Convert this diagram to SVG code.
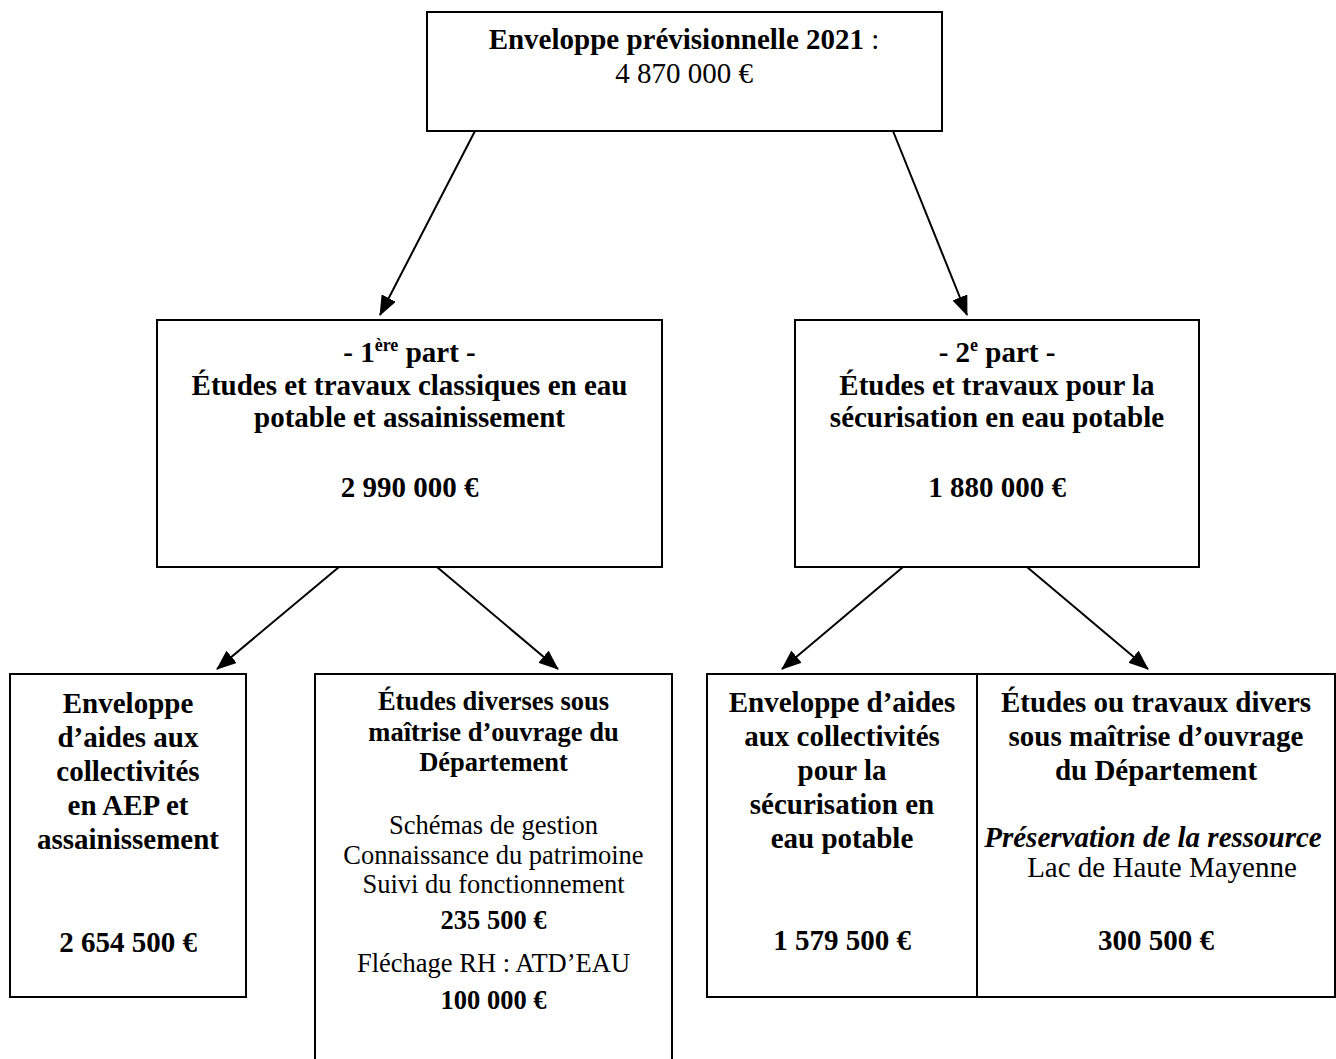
<svg xmlns="http://www.w3.org/2000/svg" width="1336" height="1059" viewBox="0 0 1336 1059">
<style>
.box{fill:#fff;stroke:#000;stroke-width:2}
text{font-family:"Liberation Serif","Times New Roman",serif;fill:#000;text-anchor:middle}
.b{font-weight:bold;font-size:29px}
.r{font-size:29px}
.bs{font-weight:bold;font-size:26.5px}
.rs{font-size:26.5px}
.bi{font-weight:bold;font-style:italic;font-size:29px}
.con{stroke:#000;stroke-width:2;fill:none;marker-end:url(#ah)}
</style>
<defs>
<marker id="ah" markerUnits="userSpaceOnUse" markerWidth="20" markerHeight="16" refX="19" refY="8" orient="auto">
<path d="M0,0 L20,8 L0,16 Z" fill="#000"/>
</marker>
</defs>
<rect width="1336" height="1059" fill="#fff"/>
<g id="connectors">
<line class="con" x1="475" y1="131" x2="380" y2="315"/>
<line class="con" x1="893" y1="131" x2="967" y2="315"/>
<line class="con" x1="339" y1="567" x2="217" y2="669"/>
<line class="con" x1="437" y1="567" x2="558" y2="669"/>
<line class="con" x1="903" y1="567" x2="782" y2="669"/>
<line class="con" x1="1027" y1="567" x2="1148" y2="669"/>
</g>
<g id="top">
<rect class="box" x="427" y="12" width="515" height="119"/>
<text x="684" y="49" class="b">Enveloppe prévisionnelle 2021<tspan font-weight="normal"> :</tspan></text>
<text x="684" y="83" class="r">4 870 000 €</text>
</g>
<g id="part1">
<rect class="box" x="157" y="320" width="505" height="247"/>
<text x="409.5" y="362" class="b">- 1<tspan font-size="18" dy="-11">ère</tspan><tspan dy="11"> part -</tspan></text>
<text x="409.5" y="395" class="b">Études et travaux classiques en eau</text>
<text x="409.5" y="427" class="b">potable et assainissement</text>
<text x="409.5" y="497" class="b">2 990 000 €</text>
</g>
<g id="part2">
<rect class="box" x="795" y="320" width="404" height="247"/>
<text x="997" y="362" class="b">- 2<tspan font-size="18" dy="-11">e</tspan><tspan dy="11"> part -</tspan></text>
<text x="997" y="395" class="b">Études et travaux pour la</text>
<text x="997" y="427" class="b">sécurisation en eau potable</text>
<text x="997" y="497" class="b">1 880 000 €</text>
</g>
<g id="aidesAEP">
<rect class="box" x="10" y="674" width="236" height="323"/>
<text x="128" y="713" class="b">Enveloppe</text>
<text x="128" y="747" class="b">d’aides aux</text>
<text x="128" y="781" class="b">collectivités</text>
<text x="128" y="815" class="b">en AEP et</text>
<text x="128" y="849" class="b">assainissement</text>
<text x="128" y="952" class="b">2 654 500 €</text>
</g>
<g id="etudesDept">
<path class="box" d="M315,1062 L315,674 L672,674 L672,1062"/>
<text x="493.5" y="710" class="bs">Études diverses sous</text>
<text x="493.5" y="741" class="bs">maîtrise d’ouvrage du</text>
<text x="493.5" y="771" class="bs">Département</text>
<text x="493.5" y="834" class="rs">Schémas de gestion</text>
<text x="493.5" y="864" class="rs">Connaissance du patrimoine</text>
<text x="493.5" y="893" class="rs">Suivi du fonctionnement</text>
<text x="493.5" y="929" class="bs">235 500 €</text>
<text x="493.5" y="972" class="rs">Fléchage RH : ATD’EAU</text>
<text x="493.5" y="1009" class="bs">100 000 €</text>
</g>
<g id="aidesSecu">
<rect class="box" x="707" y="674" width="270" height="323"/>
<text x="842" y="712" class="b">Enveloppe d’aides</text>
<text x="842" y="746" class="b">aux collectivités</text>
<text x="842" y="780" class="b">pour la</text>
<text x="842" y="814" class="b">sécurisation en</text>
<text x="842" y="848" class="b">eau potable</text>
<text x="842" y="950" class="b">1 579 500 €</text>
</g>
<g id="travauxDept">
<rect class="box" x="977" y="674" width="358" height="323"/>
<text x="1156" y="712" class="b">Études ou travaux divers</text>
<text x="1156" y="746" class="b">sous maîtrise d’ouvrage</text>
<text x="1156" y="780" class="b">du Département</text>
<text x="1153" y="847" class="bi">Préservation de la ressource</text>
<text x="1162" y="877" class="r">Lac de Haute Mayenne</text>
<text x="1156" y="950" class="b">300 500 €</text>
</g>
</svg>
